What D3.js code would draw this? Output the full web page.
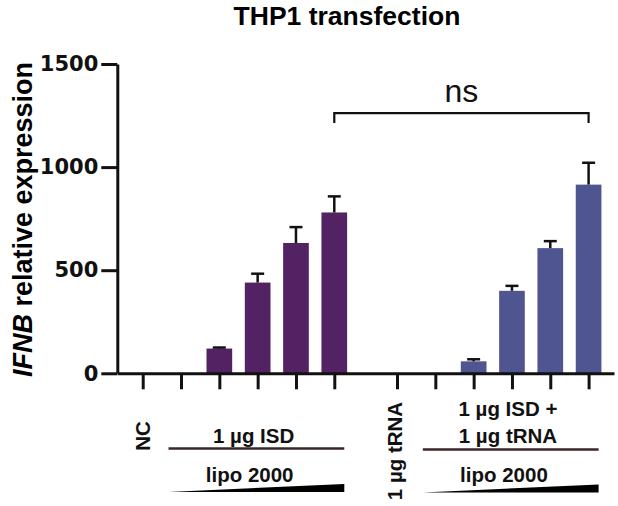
<!DOCTYPE html>
<html>
<head>
<meta charset="utf-8">
<script src="https://cdn.jsdelivr.net/npm/d3@7"></script>
<style>
  html, body { margin: 0; padding: 0; background: #fff; }
  svg { display: block; }
</style>
</head>
<body>
<svg id="chart" width="618" height="506"></svg>
<script>
// ---------------- data ----------------
const title = "THP1 transfection";
const categories = ["NC", "ISD lipo 1", "ISD lipo 2", "ISD lipo 3", "ISD lipo 4", "ISD lipo 5",
                    "tRNA", "ISD+tRNA lipo 1", "ISD+tRNA lipo 2", "ISD+tRNA lipo 3", "ISD+tRNA lipo 4", "ISD+tRNA lipo 5"];
const groups = [1, 1, 1, 1, 1, 1, 2, 2, 2, 2, 2, 2];
const values = [1, 1, 120, 440, 632, 780, 1, 1, 58, 400, 607, 915];
const errors = [0, 0, 5, 43, 77, 78, 0, 0, 10, 24, 34, 106];
const yTicks = [0, 500, 1000, 1500];
const groupColors = { 1: "#532262", 2: "#4f5590" };
const sigPairs = [{ from: 5, to: 11, level: 1262, label: "ns" }];

// ---------------- layout ----------------
const svg = d3.select("#chart");
svg.append("rect").attr("width", 618).attr("height", 506).attr("fill", "#fff");

const groupGap = 0.637;
const pos = categories.map((c, i) => i + (groups[i] === 2 ? groupGap : 0));

const x = d3.scaleLinear().domain([-0.663, 12.3]).range([117.3, 614]);
const step = x(1) - x(0);
const barW = step * 0.67;
const y = d3.scaleLinear().domain([0, 1500]).range([373.3, 64]);

// title
svg.append("text")
  .attr("x", 347).attr("y", 25)
  .attr("text-anchor", "middle")
  .attr("font-family", "Liberation Sans, Arial, sans-serif")
  .attr("font-weight", "bold").attr("font-size", 26.5)
  .text(title);

// y label
const yl = svg.append("text")
  .attr("transform", "translate(32,219.5) rotate(-90)")
  .attr("text-anchor", "middle")
  .attr("font-family", "Liberation Sans, Arial, sans-serif")
  .attr("font-weight", "bold").attr("font-size", 27);
yl.append("tspan").attr("font-style", "italic").text("IFNB");
yl.append("tspan").text(" relative expression");

// bars
svg.append("g").selectAll("rect").data(values).join("rect")
  .attr("x", (d, i) => x(pos[i]) - barW / 2)
  .attr("y", d => y(d))
  .attr("width", barW)
  .attr("height", d => y(0) - y(d))
  .attr("fill", (d, i) => groupColors[groups[i]]);

// error bars (upper)
const eg = svg.append("g").attr("stroke", "#111").attr("stroke-width", 2.5).attr("fill", "none");
values.forEach((v, i) => {
  if (errors[i] <= 0) return;
  const cx = x(pos[i]);
  eg.append("line").attr("x1", cx).attr("x2", cx).attr("y1", y(v)).attr("y2", y(v + errors[i]));
  eg.append("line").attr("x1", cx - 6.5).attr("x2", cx + 6.5).attr("y1", y(v + errors[i])).attr("y2", y(v + errors[i]));
});

// y axis
const yAxis = svg.append("g").attr("transform", `translate(${x.range()[0]},0)`)
  .call(d3.axisLeft(y).tickValues(yTicks).tickFormat(d3.format("d")).tickSize(16).tickSizeOuter(0).tickPadding(3));
yAxis.select(".domain").attr("stroke", "#111").attr("stroke-width", 3);
yAxis.selectAll(".tick line").attr("stroke", "#111").attr("stroke-width", 3);
yAxis.selectAll(".tick text")
  .attr("font-family", "DejaVu Sans, sans-serif")
  .attr("font-weight", "bold").attr("font-size", 21).attr("fill", "#111");

// x axis
const xAxis = svg.append("g").attr("transform", `translate(0,${y(0)})`)
  .call(d3.axisBottom(x).tickValues(pos).tickFormat("").tickSize(16).tickSizeOuter(0));
xAxis.select(".domain").attr("stroke", "#111").attr("stroke-width", 3);
xAxis.selectAll(".tick line").attr("stroke", "#111").attr("stroke-width", 3);

// significance bracket
sigPairs.forEach(s => {
  const x1 = x(pos[s.from]), x2 = x(pos[s.to]), yy = y(s.level);
  svg.append("path")
    .attr("d", `M${x1},${yy + 10}V${yy}H${x2}V${yy + 10}`)
    .attr("fill", "none").attr("stroke", "#111").attr("stroke-width", 2.2);
  svg.append("text")
    .attr("x", (x1 + x2) / 2).attr("y", yy - 11)
    .attr("text-anchor", "middle")
    .attr("font-family", "Liberation Sans, Arial, sans-serif")
    .attr("font-size", 32).attr("fill", "#111")
    .text(s.label);
});

// group annotations below the axis
const font = "Liberation Sans, Arial, sans-serif";
function label(txt, cx, by, anchor = "middle") {
  svg.append("text").attr("x", cx).attr("y", by)
    .attr("text-anchor", anchor)
    .attr("font-family", font).attr("font-weight", "bold").attr("font-size", 20.5)
    .attr("fill", "#111").text(txt);
}
function vlabel(txt, bx, cy) {
  svg.append("text").attr("transform", `translate(${bx},${cy}) rotate(-90)`)
    .attr("text-anchor", "middle")
    .attr("font-family", font).attr("font-weight", "bold").attr("font-size", 20.5)
    .attr("fill", "#111").text(txt);
}
function groupBar(i0, i1, ly, wy, texts, lipoY) {
  const a = x(pos[i0]) - 12.5, b = x(pos[i1]) + 10;
  const c = (x(pos[i0]) + x(pos[i1])) / 2;
  texts.forEach(t => label(t.text, c - 4, t.y));
  svg.append("line").attr("x1", a).attr("x2", b).attr("y1", ly).attr("y2", ly)
    .attr("stroke", "#3a2628").attr("stroke-width", 2.5);
  label("lipo 2000", c - 8, lipoY);
  svg.append("path")
    .attr("d", `M${a},${wy}L${b},${wy - 8}L${b},${wy}Z`)
    .attr("fill", "#000");
}

vlabel("NC", x(pos[0]) + 7, 436);
groupBar(1, 5, 448.5, 492, [{ text: "1 µg ISD", y: 443 }], 482);

vlabel("1 µg tRNA", x(pos[6]) + 5, 451);
groupBar(7, 11, 449.5, 492.5, [{ text: "1 µg ISD +", y: 416 }, { text: "1 µg tRNA", y: 443 }], 482);
</script>
</body>
</html>
